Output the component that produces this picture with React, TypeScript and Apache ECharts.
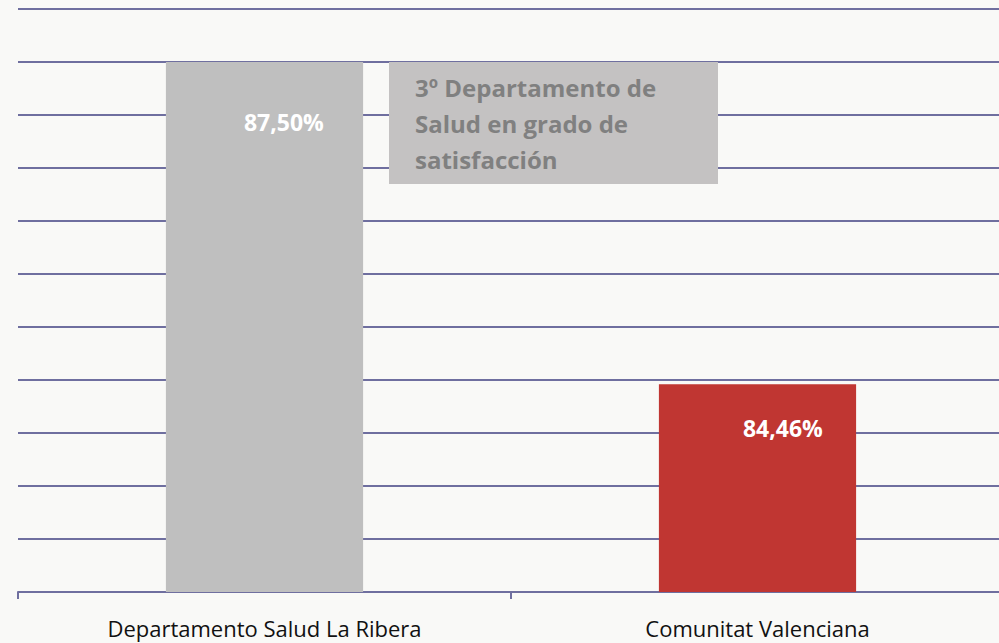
import React, { useEffect, useRef } from "react";
import * as echarts from "echarts";

const categories = ["Departamento Salud La Ribera", "Comunitat Valenciana"];
const values = [87.5, 84.46];
const barColors = ["#bfbfbf", "#c03632"];
const axisMin = 82.5;
const axisMax = 88;
const axisInterval = 0.5;
const noteLines = ["3º Departamento de", "Salud en grado de", "satisfacción"];

export default function App() {
  const ref = useRef<HTMLDivElement>(null);
  useEffect(() => {
    if (!ref.current) return;
    const chart = echarts.init(ref.current, null, { renderer: "svg" });
    const labelPos = [
      [118, 60],
      [124, 44],
    ];
    chart.setOption({
      animation: false,
      backgroundColor: "#f9f9f7",
      grid: { left: 18, top: 9, right: 6, height: 583, containLabel: false },
      xAxis: {
        type: "category",
        data: categories,
        boundaryGap: true,
        axisLine: { show: true, lineStyle: { color: "#6f6f9f", width: 2 } },
        axisTick: { show: true, length: 7, lineStyle: { color: "#6f6f9f", width: 2 } },
        axisLabel: {
          color: "#111111",
          fontFamily: "Open Sans",
          fontSize: 22,
          margin: 25,
        },
      },
      yAxis: {
        type: "value",
        min: axisMin,
        max: axisMax,
        interval: axisInterval,
        axisLine: { show: false },
        axisTick: { show: false },
        axisLabel: { show: false },
        splitLine: { show: true, lineStyle: { color: "#6f6f9f", width: 2 } },
      },
      series: [
        {
          type: "bar",
          barWidth: "40%",
          data: values.map((v, i) => ({
            value: v,
            itemStyle: { color: barColors[i] },
            label: {
              show: true,
              position: labelPos[i],
              align: "center",
              verticalAlign: "middle",
              color: "#ffffff",
              fontWeight: "bold",
              fontFamily: "Open Sans",
              fontSize: 23,
              formatter: (p: any) => p.value.toFixed(2).replace(".", ",") + "%",
            },
          })),
        },
      ],
      graphic: [
        {
          type: "rect",
          left: 389,
          top: 62,
          shape: { width: 329, height: 122 },
          style: { fill: "#c4c2c2" },
          z: 100,
        },
        {
          type: "text",
          left: 415,
          top: 69,
          z: 101,
          style: {
            text: noteLines.join("\n"),
            fill: "#808080",
            font: "bold 24px 'Open Sans'",
            lineHeight: 36,
          },
        },
      ],
    });
    return () => chart.dispose();
  }, []);
  return (
    <div
      style={{
        position: "absolute",
        left: 0,
        top: 0,
        width: 999,
        height: 643,
        overflow: "hidden",
      }}
    >
      <div ref={ref} style={{ width: 1010, height: 643 }} />
    </div>
  );
}
